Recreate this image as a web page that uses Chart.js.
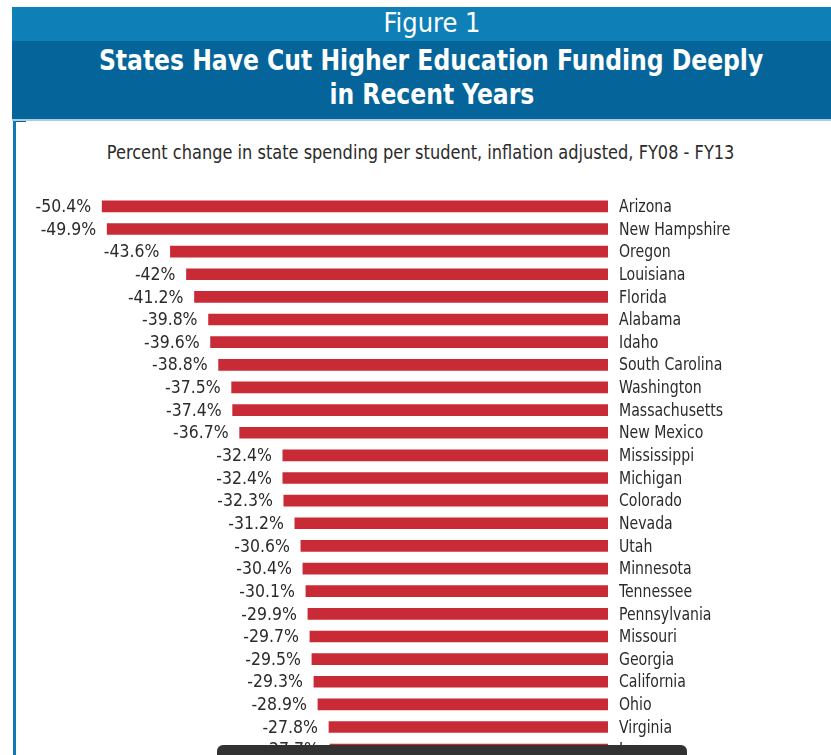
<!DOCTYPE html>
<html>
<head>
<meta charset="utf-8">
<script src="https://cdn.jsdelivr.net/npm/chart.js@4"></script>
<style>
    html, body {
        margin: 0;
        padding: 0;
        width: 831px;
        height: 755px;
        overflow: hidden;
        background: #fff;
    }
    .squeeze {
        display: inline-block;
        white-space: nowrap;
    }
    .band-top {
        position: absolute;
        left: 12px; top: 7px;
        width: 819px; height: 34px;
        background: #0f7fb7;
        color: #fff;
        font: 27px "DejaVu Sans Condensed", sans-serif;
        text-align: center;
        line-height: 32px;
        padding-left: 21px;
        box-sizing: border-box;
    }
    .band-title {
        position: absolute;
        left: 12px; top: 41px;
        width: 819px; height: 78px;
        background: #05659a;
        color: #fff;
        font: bold 29px "DejaVu Sans Condensed", sans-serif;
        text-align: center;
        line-height: 34px;
        padding-top: 2px;
        padding-left: 20px;
        box-sizing: border-box;
    }
    .band-title .squeeze { transform: scaleX(0.9); }
    .band-line {
        position: absolute;
        left: 12px; top: 119px;
        width: 819px; height: 2px;
        background: #a9cde3;
    }
    .left-rule {
        position: absolute;
        left: 13px; top: 121px;
        width: 3px; height: 640px;
        background: #1479b3;
    }
    .notch {
        position: absolute;
        left: 16px; top: 121px;
        width: 10px; height: 1px;
        background: #1a5f8c;
    }
    .subtitle {
        position: absolute;
        left: 0; top: 140px;
        width: 842px;
        text-align: center;
        color: #2b2b2b;
        font: 20px "DejaVu Sans Condensed", sans-serif;
    }
    .subtitle .squeeze { transform: scaleX(0.9); }
    .chart-box {
        position: absolute;
        left: 0; top: 190px;
        width: 831px; height: 591px;
    }
    .overlay {
        position: absolute;
        left: 217px; top: 745px;
        width: 470px; height: 20px;
        background: #323232;
        border-radius: 6px 6px 0 0;
    }
</style>
</head>
<body>
<div class="band-top">Figure 1</div>
<div class="band-title"><span class="squeeze">States Have Cut Higher Education Funding Deeply</span><br><span class="squeeze">in Recent Years</span></div>
<div class="band-line"></div>
<div class="left-rule"></div>
<div class="notch"></div>
<div class="subtitle"><span class="squeeze">Percent change in state spending per student, inflation adjusted, FY08 - FY13</span></div>
<div class="chart-box"><canvas id="cutsChart"></canvas></div>
<div class="overlay"></div>

<script>
const states = [
    'Arizona', 'New Hampshire', 'Oregon', 'Louisiana', 'Florida', 'Alabama', 'Idaho',
    'South Carolina', 'Washington', 'Massachusetts', 'New Mexico', 'Mississippi',
    'Michigan', 'Colorado', 'Nevada', 'Utah', 'Minnesota', 'Tennessee', 'Pennsylvania',
    'Missouri', 'Georgia', 'California', 'Ohio', 'Virginia', 'Iowa'
];
const pctChange = [
    -50.4, -49.9, -43.6, -42, -41.2, -39.8, -39.6,
    -38.8, -37.5, -37.4, -36.7, -32.4,
    -32.4, -32.3, -31.2, -30.6, -30.4, -30.1, -29.9,
    -29.7, -29.5, -29.3, -28.9, -27.8, -27.7
];

const labelFont = '18px "DejaVu Sans Condensed", sans-serif';

// draw text squeezed sideways, the source uses a narrow typeface
function narrowText(ctx, text, x, y, sx) {
    ctx.save();
    ctx.translate(x, y);
    ctx.scale(sx, 1);
    ctx.fillText(text, 0, 0);
    ctx.restore();
}

// value on the left of each bar, state name right of the zero line
const barLabels = {
    id: 'barLabels',
    afterDatasetsDraw(chart) {
        const ctx = chart.ctx;
        const zeroX = chart.scales.x.getPixelForValue(0);
        const bars = chart.getDatasetMeta(0).data;
        ctx.save();
        ctx.font = labelFont;
        ctx.fillStyle = '#2b2b2b';
        ctx.textBaseline = 'middle';
        bars.forEach((bar, i) => {
            ctx.textAlign = 'right';
            narrowText(ctx, pctChange[i] + '%', bar.x - 11, bar.y + 1, 0.97);
            ctx.textAlign = 'left';
            narrowText(ctx, states[i], zeroX + 11, bar.y + 1, 0.87);
        });
        ctx.restore();
    }
};

new Chart(document.getElementById('cutsChart'), {
    type: 'bar',
    data: {
        labels: states,
        datasets: [{
            data: pctChange,
            backgroundColor: '#c82a36',
            barThickness: 11,
            borderWidth: 0
        }]
    },
    options: {
        indexAxis: 'y',
        responsive: true,
        maintainAspectRatio: false,
        animation: false,
        layout: {
            padding: { top: 5, bottom: 20, left: 56, right: 223 }
        },
        plugins: {
            legend: { display: false },
            tooltip: { enabled: false }
        },
        scales: {
            x: { min: -55, max: 0, display: false },
            y: { display: false }
        }
    },
    plugins: [barLabels]
});
</script>
</body>
</html>
